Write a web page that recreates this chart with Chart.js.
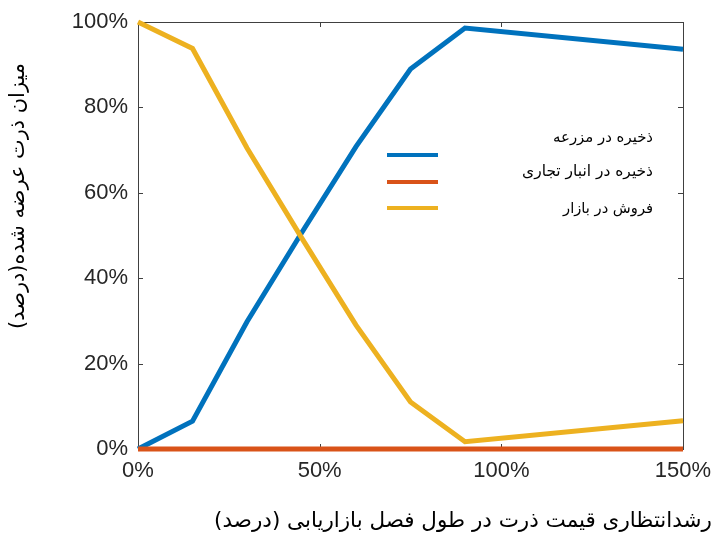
<!DOCTYPE html>
<html>
<head>
<meta charset="utf-8">
<script src="https://cdn.jsdelivr.net/npm/chart.js@4.4.1/dist/chart.umd.min.js"></script>
<style>
  html, body { margin: 0; padding: 0; background: #ffffff; }
  #wrap { position: relative; width: 715px; height: 537px; }
</style>
</head>
<body>
<div id="wrap"><canvas id="c" width="715" height="537"></canvas></div>
<script>
// ---- data ----
const xValues = [0, 15, 30, 45, 60, 75, 90, 150];
const farmStorage = [0, 6.5, 29.8, 50.6, 70.8, 89, 98.6, 93.6];
const commercialStorage = [0, 0, 0, 0, 0, 0, 0, 0];
const marketSales = [100, 93.8, 70.5, 49.5, 29, 11, 1.7, 6.6];
const seriesNames = ['ذخیره در مزرعه', 'ذخیره در انبار تجاری', 'فروش در بازار'];
const xTicks = [0, 50, 100, 150];
const yTicks = [0, 20, 40, 60, 80, 100];
const xTitle = 'رشدانتظاری قیمت ذرت در طول فصل بازاریابی (درصد)';
const yTitle = 'میزان ذرت عرضه شده(درصد)';

const colors = ['#0072BD', '#D95319', '#EDB120'];
const axisColor = '#262626';
const toPts = ys => xValues.map((x, i) => ({ x: x, y: ys[i] }));

function fitFont(ctx, text, targetWidth, base) {
  ctx.font = base + 'px "DejaVu Sans", sans-serif';
  const w = ctx.measureText(text).width;
  const size = base * targetWidth / w;
  ctx.font = size.toFixed(2) + 'px "DejaVu Sans", sans-serif';
}

const framePlugin = {
  id: 'frame',
  beforeDatasetsDraw(chart) {
    const { ctx, chartArea: a, scales } = chart;
    ctx.save();
    ctx.strokeStyle = '#404040';
    ctx.lineWidth = 1;
    ctx.strokeRect(Math.round(a.left) + 0.5, Math.round(a.top) + 0.5,
                   Math.round(a.right - a.left), Math.round(a.bottom - a.top));
    const tl = 5;
    ctx.beginPath();
    xTicks.forEach(v => {
      const px = Math.round(scales.x.getPixelForValue(v)) + 0.5;
      ctx.moveTo(px, a.bottom); ctx.lineTo(px, a.bottom - tl);
      ctx.moveTo(px, a.top); ctx.lineTo(px, a.top + tl);
    });
    yTicks.forEach(v => {
      const py = Math.round(scales.y.getPixelForValue(v)) + 0.5;
      ctx.moveTo(a.left, py); ctx.lineTo(a.left + tl, py);
      ctx.moveTo(a.right, py); ctx.lineTo(a.right - tl, py);
    });
    ctx.stroke();
    ctx.restore();
  },
  afterDraw(chart) {
    const { ctx } = chart;
    ctx.save();
    // legend
    const lineX0 = 387, lineX1 = 438;
    const lineYs = [155, 182, 208];
    const textYs = [138, 172, 209];
    const textW = [100, 131, 90];
    ctx.lineWidth = 4;
    ctx.lineCap = 'butt';
    seriesNames.forEach((n, i) => {
      ctx.strokeStyle = colors[i];
      ctx.beginPath();
      ctx.moveTo(lineX0, lineYs[i]); ctx.lineTo(lineX1, lineYs[i]);
      ctx.stroke();
      ctx.fillStyle = '#000000';
      ctx.direction = 'rtl';
      fitFont(ctx, n, textW[i], 15);
      ctx.textAlign = 'right';
      ctx.textBaseline = 'middle';
      ctx.fillText(n, 653, textYs[i]);
    });
    // x title
    ctx.fillStyle = '#000000';
    ctx.direction = 'rtl';
    fitFont(ctx, xTitle, 498, 20);
    ctx.textAlign = 'center';
    ctx.textBaseline = 'middle';
    ctx.fillText(xTitle, 463, 521);
    // y title
    ctx.translate(19, 196);
    ctx.rotate(-Math.PI / 2);
    fitFont(ctx, yTitle, 266, 20);
    ctx.fillText(yTitle, 0, 0);
    ctx.restore();
  }
};

new Chart(document.getElementById('c'), {
  type: 'line',
  data: {
    datasets: [
      { label: seriesNames[0], data: toPts(farmStorage), borderColor: colors[0], backgroundColor: colors[0], order: 3 },
      { label: seriesNames[1], data: toPts(commercialStorage), borderColor: colors[1], backgroundColor: colors[1], order: 2 },
      { label: seriesNames[2], data: toPts(marketSales), borderColor: colors[2], backgroundColor: colors[2], order: 1 }
    ].map(d => Object.assign(d, { borderWidth: 5, pointRadius: 0, tension: 0, clip: false, borderJoinStyle: 'miter' }))
  },
  options: {
    responsive: false,
    animation: false,
    devicePixelRatio: 1,
    layout: { padding: { top: 22, right: 32, left: 0, bottom: 0 } },
    plugins: { legend: { display: false }, tooltip: { enabled: false }, title: { display: false } },
    scales: {
      x: {
        type: 'linear', min: 0, max: 150,
        afterBuildTicks: s => { s.ticks = xTicks.map(v => ({ value: v })); },
        afterFit: s => { s.height = 88; s.paddingLeft = 0; s.paddingRight = 0; },
        grid: { display: false, drawTicks: false },
        border: { display: false },
        ticks: { color: axisColor, font: { family: '"Liberation Sans", Arial, sans-serif', size: 22 }, padding: 9, maxRotation: 0, callback: v => v + '%' }
      },
      y: {
        type: 'linear', min: 0, max: 100,
        afterBuildTicks: s => { s.ticks = yTicks.map(v => ({ value: v })); },
        afterFit: s => { s.width = 138; s.paddingTop = 0; s.paddingBottom = 0; },
        grid: { display: false, drawTicks: false },
        border: { display: false },
        ticks: { color: axisColor, font: { family: '"Liberation Sans", Arial, sans-serif', size: 22 }, padding: 10, callback: v => v + '%' }
      }
    }
  },
  plugins: [framePlugin]
});
</script>
</body>
</html>
